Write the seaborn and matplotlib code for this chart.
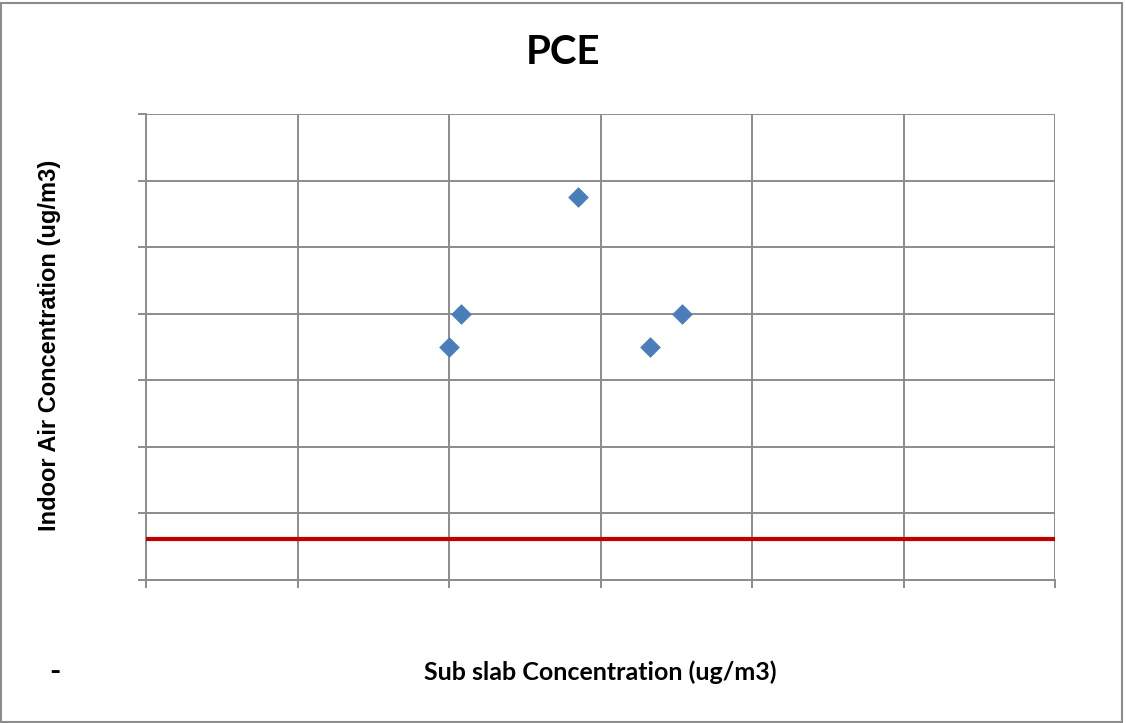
import pandas as pd
import matplotlib
matplotlib.use("Agg")
import matplotlib.pyplot as plt
import seaborn as sns

# === DATA (units = gridline steps) ===
sub_slab = [2.0, 2.08, 2.85, 3.33, 3.54]
indoor_air = [3.5, 4.0, 5.75, 3.5, 4.0]
screening_level = 0.62

df = pd.DataFrame({"SubSlab": sub_slab, "IndoorAir": indoor_air})

# === PLOTTING ===
sns.set_theme(style="white")
plt.rcParams["font.family"] = ["Liberation Sans", "DejaVu Sans"]
plt.rcParams["text.color"] = "black"

fig = plt.figure(figsize=(11.26, 7.23), dpi=100)
ax = fig.add_axes([146 / 1126, 1 - 580 / 723, (1055 - 146) / 1126, (580 - 114) / 723])

sns.scatterplot(data=df, x="SubSlab", y="IndoorAir", marker="D", s=100,
                color="#4A7EBB", edgecolor="#4A7EBB", linewidth=0.5, ax=ax, zorder=4)
ax.axhline(screening_level, color="#C00000", linewidth=3, zorder=3)

ax.set_xlim(0, 6)
ax.set_ylim(0, 7)
ax.set_xticks(range(0, 7))
ax.set_yticks(range(0, 8))
ax.set_xticklabels([])
ax.set_yticklabels([])
ax.grid(True, color="#8C8C8C", linewidth=1.4)
ax.tick_params(axis="both", which="both", direction="out", length=6, width=1.4,
               color="#8C8C8C", left=True, bottom=True)
for side in ["top", "right"]:
    ax.spines[side].set_visible(False)
for side in ["left", "bottom"]:
    ax.spines[side].set_color("#8C8C8C")
    ax.spines[side].set_linewidth(1.4)
ax.set_xlabel("")
ax.set_ylabel("")

# === Annotate plot ===
fig.text(563 / 1126, 1 - 53 / 723, "PCE", ha="center", va="center", color="black",
         fontsize=29, fontweight="bold", family=["Lato", "DejaVu Sans"])
fig.text(600 / 1126, 1 - 672 / 723, "Sub slab Concentration (ug/m3)", ha="center", va="center",
         color="black", fontsize=18, fontweight="bold", family=["Lato", "DejaVu Sans"])
fig.text(50 / 1126, 1 - 345 / 723, "Indoor Air Concentration (ug/m3)", ha="center", va="center",
         color="black", fontsize=17, fontweight="bold", rotation=90)
fig.text(55 / 1126, 1 - 672 / 723, "-", ha="center", va="center", color="black",
         fontsize=22, fontweight="bold", family=["Lato", "DejaVu Sans"])

# outer chart frame
fig.patches.append(plt.Rectangle((1 / 1126, 1 / 723), 1121 / 1126, 719 / 723,
                                 transform=fig.transFigure, fill=False,
                                 edgecolor="#8C8C8C", linewidth=1.5))

plt.savefig("out.png", dpi=100)
